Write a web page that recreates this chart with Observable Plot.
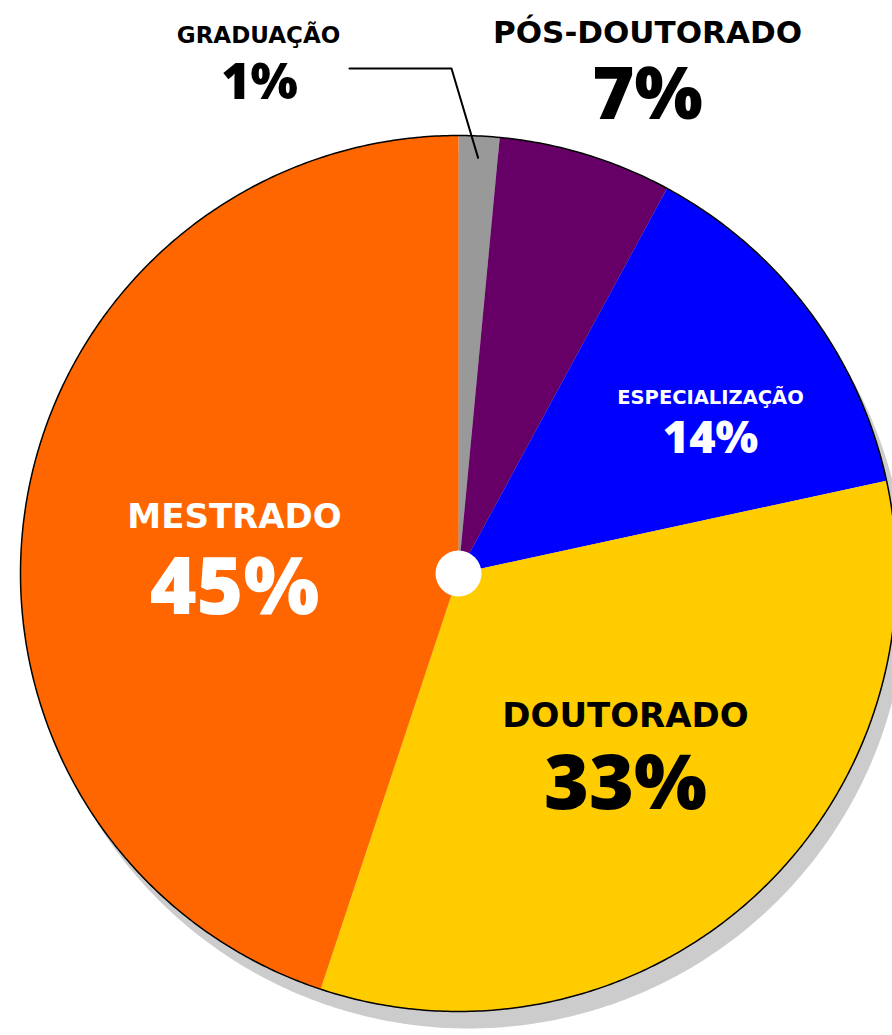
<!DOCTYPE html>
<html>
<head>
<meta charset="utf-8">
<script src="https://cdn.jsdelivr.net/npm/d3@7"></script>
<script src="https://cdn.jsdelivr.net/npm/@observablehq/plot@0.6"></script>
<style>
  html, body { margin: 0; padding: 0; background: #ffffff; }
  #chart svg { display: block; }
</style>
</head>
<body>
<div id="chart"></div>
<script>
// ---- data ----
const categories = ["GRADUAÇÃO", "PÓS-DOUTORADO", "ESPECIALIZAÇÃO", "DOUTORADO", "MESTRADO"];
const values = [1.5, 6.4, 13.7, 33.5, 44.9];
const percentLabels = ["1%", "7%", "14%", "33%", "45%"];
const colors = ["#999999", "#660066", "#0000ff", "#ffcc00", "#ff6600"];

// ---- layout (pixels, converted to pie units: radius = 1, y up) ----
const W = 892, H = 1035;
const cx = 458, cy = 573, R = 438;
const labelLayout = [
  {name: [258, 42], pct: [259, 98], nameSize: 23, pctSize: 50, color: "#000000"},
  {name: [647, 42], pct: [647, 118], nameSize: 31, pctSize: 72, color: "#000000"},
  {name: [710, 403], pct: [710, 452], nameSize: 19.5, pctSize: 45, color: "#ffffff"},
  {name: [625, 726], pct: [625, 808], nameSize: 34, pctSize: 77, color: "#000000"},
  {name: [234, 527], pct: [234, 613], nameSize: 34, pctSize: 80, color: "#ffffff"}
];
const toUnit = ([px, py]) => [(px - cx) / R, (cy - py) / R];

// ---- geometry from data ----
const total = d3.sum(values);
const slices = [];
let acc = 0;
categories.forEach((cat, i) => {
  const a0 = acc / total * 2 * Math.PI;
  acc += values[i];
  const a1 = acc / total * 2 * Math.PI;
  const n = Math.max(2, Math.ceil((a1 - a0) / (Math.PI / 360)));
  slices.push({cat, x: 0, y: 0});
  for (let k = 0; k <= n; k++) {
    const a = a0 + (a1 - a0) * k / n;
    slices.push({cat, x: Math.sin(a), y: Math.cos(a)});
  }
  slices.push({cat, x: 0, y: 0});
});
const circle = d3.range(0, 721).map(k => {
  const a = k / 720 * 2 * Math.PI;
  return {x: Math.sin(a), y: Math.cos(a)};
});

// leader line for GRADUAÇÃO: from label to the slice midpoint
const gMid = values[0] / 2 / total * 2 * Math.PI;
const leader = [
  {x: toUnit([349, 68])[0], y: toUnit([349, 68])[1]},
  {x: toUnit([451, 68])[0], y: toUnit([451, 68])[1]},
  {x: 0.95 * Math.sin(gMid), y: 0.95 * Math.cos(gMid)}
];

const nameFont = "'DejaVu Sans', 'Open Sans', sans-serif";
const pctFont = "'Open Sans', 'Noto Sans', sans-serif";
const textMarks = [];
categories.forEach((cat, i) => {
  const L = labelLayout[i];
  const [nx, ny] = toUnit(L.name);
  const [px, py] = toUnit(L.pct);
  textMarks.push(Plot.text([{x: nx, y: ny, t: cat}], {
    x: "x", y: "y", text: "t", fill: L.color, fontSize: L.nameSize,
    fontWeight: "bold", fontFamily: nameFont, lineAnchor: "bottom", textAnchor: "middle"
  }));
  textMarks.push(Plot.text([{x: px, y: py, t: percentLabels[i]}], {
    x: "x", y: "y", text: "t", fill: L.color, fontSize: L.pctSize,
    fontWeight: 800, fontFamily: pctFont, lineAnchor: "bottom", textAnchor: "middle"
  }));
});

const chart = Plot.plot({
  width: W,
  height: H,
  marginLeft: cx - R,
  marginRight: 0,
  marginTop: cy - R,
  marginBottom: H - (cy + R),
  x: {domain: [-1, (W - cx) / R], axis: null},
  y: {domain: [-1, 1], axis: null},
  color: {domain: categories, range: colors},
  style: {background: "#ffffff", overflow: "visible"},
  marks: [
    Plot.line(circle, {x: "x", y: "y", fill: "#cccccc", stroke: "none", dx: 10, dy: 17}),
    Plot.line(slices, {x: "x", y: "y", z: "cat", fill: "cat", stroke: "none"}),
    Plot.line(circle, {x: "x", y: "y", fill: "none", stroke: "#000000", strokeWidth: 1.5}),
    Plot.dot([{x: 0, y: 0}], {x: "x", y: "y", r: 23, fill: "#ffffff", stroke: "none"}),
    Plot.line(leader, {x: "x", y: "y", stroke: "#000000", strokeWidth: 2}),
    ...textMarks
  ]
});
document.getElementById("chart").appendChild(chart);
</script>
</body>
</html>
